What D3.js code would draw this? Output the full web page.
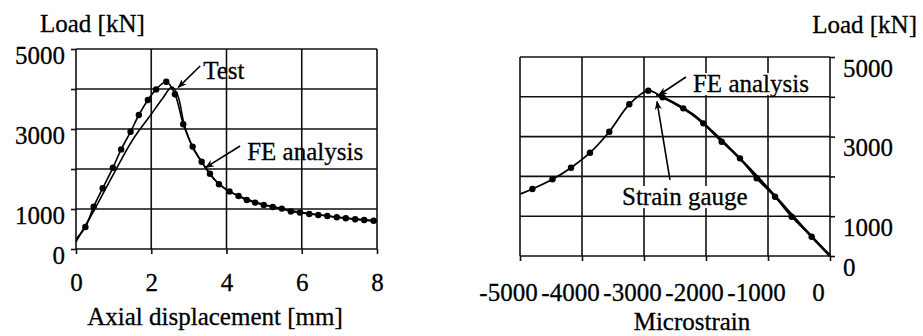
<!DOCTYPE html>
<html>
<head>
<meta charset="utf-8">
<script src="https://cdn.jsdelivr.net/npm/d3@7"></script>
<style>
  body { margin: 0; background: #fff; }
  svg text { font-family: "Liberation Serif", "Tinos", "Times New Roman", "DejaVu Serif", serif; fill: #000; }
</style>
</head>
<body>
<script>
'use strict';

// left chart: load vs axial displacement
const dispTicks = [0, 2, 4, 6, 8];
const loadGrid = [0, 1000, 2000, 3000, 4000, 5000];
const loadLabels = [0, 1000, 3000, 5000];

// curve with markers
const testDisp = [0, 0.25, 0.47, 0.71, 0.98, 1.2, 1.45, 1.67, 1.91, 2.13, 2.4, 2.63, 2.85, 3.1, 3.34, 3.56, 3.8, 4.08, 4.32, 4.54, 4.76, 4.99, 5.23, 5.47, 5.71, 5.95, 6.2, 6.44, 6.68, 6.93, 7.17, 7.42, 7.66, 7.91];
const testLoad = [250, 550, 1060, 1520, 2030, 2490, 2930, 3350, 3725, 3990, 4180, 3870, 3120, 2560, 2180, 1880, 1620, 1440, 1325, 1225, 1160, 1100, 1050, 1010, 940, 910, 875, 850, 825, 795, 770, 745, 725, 705];
// plain line
const feDisp = [0, 0.5, 1.0, 1.5, 2.0, 2.3, 2.55, 2.7, 2.88, 3.1, 3.4, 3.7, 4.0, 4.5, 5.0, 5.5, 6.0, 6.5, 7.0, 7.5, 8.0];
const feLoad = [180, 1000, 1880, 2720, 3370, 3760, 4050, 3850, 3100, 2540, 2090, 1720, 1480, 1260, 1110, 1000, 915, 850, 790, 740, 700];

// right chart: load vs microstrain
const strainTicks = [-5000, -4000, -3000, -2000, -1000, 0];
const gaugeStrain = [-4990, -4800, -4476, -4177, -3871, -3560, -3237, -2931, -2700, -2366, -2043, -1747, -1452, -1183, -887, -618, -296, -120, 0];
const gaugeLoad = [1560, 1683, 1927, 2219, 2596, 3123, 3811, 4154, 3990, 3710, 3333, 2872, 2453, 1952, 1490, 988, 485, 200, 30];
const feStrain = [-2800, -2500, -2200, -1900, -1600, -1300, -1000, -700, -400, -200, 0];
const feLoadR = [4060, 3830, 3540, 3130, 2680, 2200, 1700, 1180, 660, 330, 0];

const W = 923, H = 336;
const FONT = '"Liberation Serif", "Tinos", "Times New Roman", "DejaVu Serif", serif';
const svg = d3.select('body').append('svg')
    .attr('width', W)
    .attr('height', H)
    .style('background', '#fff');

svg.append('defs').append('marker')
    .attr('id', 'head')
    .attr('viewBox', '0 0 10 10')
    .attr('refX', 9).attr('refY', 5)
    .attr('markerWidth', 9).attr('markerHeight', 9)
    .attr('markerUnits', 'userSpaceOnUse')
    .attr('orient', 'auto')
    .append('path')
    .attr('d', 'M0,1 L10,5 L0,9 L3,5 Z')
    .attr('fill', '#000');

const ink = '#111';

function grid(g, x, y, xs, ys) {
    g.append('g').selectAll('line').data(ys).enter().append('line')
        .attr('x1', x.range()[0]).attr('x2', x.range()[1])
        .attr('y1', d => y(d)).attr('y2', d => y(d))
        .attr('stroke', ink).attr('stroke-width', 1.6);
    g.append('g').selectAll('line').data(xs).enter().append('line')
        .attr('x1', d => x(d)).attr('x2', d => x(d))
        .attr('y1', y.range()[0]).attr('y2', y.range()[1])
        .attr('stroke', ink).attr('stroke-width', 1.6);
}

function styleAxis(g) {
    g.attr('font-family', FONT).attr('font-size', 25);
    g.select('.domain').remove();
    g.selectAll('.tick line').attr('stroke', ink).attr('stroke-width', 1.6);
    g.selectAll('text')
        .attr('font-family', FONT)
        .attr('font-size', 25)
        .attr('stroke', '#000').attr('stroke-width', 0.3)
        .attr('fill', '#000');
}

function arrow(g, x, y, a) {
    g.append('line')
        .attr('x1', x(a.from[0])).attr('y1', y(a.from[1]))
        .attr('x2', x(a.to[0])).attr('y2', y(a.to[1]))
        .attr('stroke', '#000').attr('stroke-width', 1.6)
        .attr('marker-end', 'url(#head)');
}

function text(g, xp, yp, txt, anchor) {
    return g.append('text')
        .attr('x', xp).attr('y', yp)
        .attr('text-anchor', anchor || 'start')
        .attr('font-family', FONT)
        .attr('font-size', 25)
        .attr('stroke', '#000').attr('stroke-width', 0.3)
        .text(txt);
}

function label(g, x, y, pos, txt, boxed) {
    let t = text(g, x(pos[0]), y(pos[1]), txt);
    if (boxed) {
        let b = t.node().getBBox();
        g.insert('rect', () => t.node())
            .attr('x', b.x - 1).attr('y', b.y + 3)
            .attr('width', b.width + 2).attr('height', b.height - 5)
            .attr('fill', '#fff');
    }
}

// ---------- left chart ----------
let xL = d3.scaleLinear().domain([0, 8]).range([76, 377]);
let yL = d3.scaleLinear().domain([0, 5000]).range([249, 49]);
let gL = svg.append('g');

grid(gL, xL, yL, dispTicks, loadGrid);

gL.append('g')
    .attr('transform', 'translate(' + xL(0) + ',0)')
    .call(d3.axisLeft(yL).tickValues(loadGrid).tickSize(5).tickPadding(6)
        .tickFormat(d => loadLabels.includes(d) ? String(d) : ''))
    .call(styleAxis)
    .selectAll('text').attr('dy', '0.56em');

gL.append('g')
    .attr('transform', 'translate(0,' + yL(0) + ')')
    .call(d3.axisBottom(xL).tickValues(dispTicks).tickSize(5).tickPadding(19)
        .tickFormat(d => String(d)))
    .call(styleAxis);

let lineL = d3.line()
    .x(d => xL(d[0]))
    .y(d => yL(d[1]))
    .curve(d3.curveCatmullRom.alpha(0.5));

gL.append('path')
    .datum(d3.zip(feDisp, feLoad))
    .attr('d', lineL)
    .attr('fill', 'none').attr('stroke', '#000').attr('stroke-width', 1.6);

let testPts = d3.zip(testDisp, testLoad);
gL.append('path')
    .datum(testPts)
    .attr('d', lineL)
    .attr('fill', 'none').attr('stroke', '#000').attr('stroke-width', 1.6);

gL.append('g').selectAll('circle')
    .data(testPts.slice(1))
    .enter().append('circle')
    .attr('cx', d => xL(d[0]))
    .attr('cy', d => yL(d[1]))
    .attr('r', 3.2)
    .attr('fill', '#000');

arrow(gL, xL, yL, { from: [3.3, 4575], to: [2.72, 4040] });
label(gL, xL, yL, [3.38, 4250], 'Test', false);
arrow(gL, xL, yL, { from: [4.36, 2575], to: [3.45, 2040] });
label(gL, xL, yL, [4.55, 2230], 'FE analysis', false);

text(gL, 40, 32, 'Load [kN]');
text(gL, 215, 325, 'Axial displacement [mm]', 'middle');

// ---------- right chart ----------
let xR = d3.scaleLinear().domain([-5000, 0]).range([520, 830]);
let yR = d3.scaleLinear().domain([0, 5000]).range([256, 57]);
let gR = svg.append('g');

grid(gR, xR, yR, strainTicks, loadGrid);

gR.append('g')
    .attr('transform', 'translate(' + xR(0) + ',0)')
    .call(d3.axisRight(yR).tickValues(loadGrid).tickSize(5).tickPadding(8)
        .tickFormat(d => loadLabels.includes(d) ? String(d) : ''))
    .call(styleAxis)
    .selectAll('text').attr('dy', '0.76em');

gR.append('g')
    .attr('transform', 'translate(0,' + yR(0) + ')')
    .call(d3.axisBottom(xR).tickValues(strainTicks).tickSize(5).tickPadding(22)
        .tickFormat(d => String(d)))
    .call(styleAxis)
    .selectAll('text').attr('x', -12);

let lineR = d3.line()
    .x(d => xR(d[0]))
    .y(d => yR(d[1]))
    .curve(d3.curveCatmullRom.alpha(0.5));

gR.append('path')
    .datum(d3.zip(feStrain, feLoadR))
    .attr('d', lineR)
    .attr('fill', 'none').attr('stroke', '#000').attr('stroke-width', 2.6);

let gaugePts = d3.zip(gaugeStrain, gaugeLoad);
gR.append('path')
    .datum(gaugePts)
    .attr('d', lineR)
    .attr('fill', 'none').attr('stroke', '#000').attr('stroke-width', 1.8);

gR.append('g').selectAll('circle')
    .data(gaugePts.slice(1, -2))
    .enter().append('circle')
    .attr('cx', d => xR(d[0]))
    .attr('cy', d => yR(d[1]))
    .attr('r', 3.2)
    .attr('fill', '#000');

label(gR, xR, yR, [-2210, 4120], 'FE analysis', true);
arrow(gR, xR, yR, { from: [-2323, 4497], to: [-2760, 4045] });
label(gR, xR, yR, [-3355, 1280], 'Strain gauge', true);
arrow(gR, xR, yR, { from: [-2581, 1910], to: [-2790, 3880] });

text(gR, 917, 33, 'Load [kN]', 'end');
text(gR, 692, 330, 'Microstrain', 'middle');
</script>
</body>
</html>
